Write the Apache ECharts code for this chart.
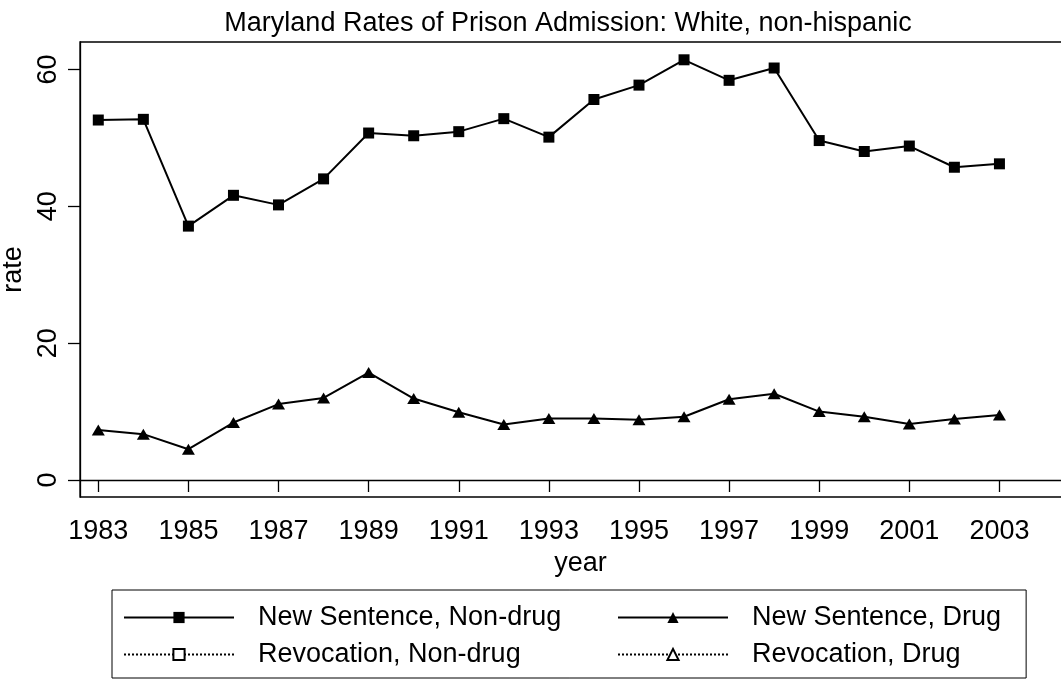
<!DOCTYPE html>
<html>
<head>
<meta charset="utf-8">
<script src="https://cdn.jsdelivr.net/npm/echarts@6/dist/echarts.min.js"></script>
<style>
    html, body { margin: 0; padding: 0; background: #fff; }
    #chart { width: 1061px; height: 681px; }
</style>
</head>
<body>
<div id="chart"></div>
<script>
const years = [1983, 1984, 1985, 1986, 1987, 1988, 1989, 1990, 1991, 1992, 1993,
    1994, 1995, 1996, 1997, 1998, 1999, 2000, 2001, 2002, 2003]
const newNonDrug = [52.6, 52.7, 37.1, 41.6, 40.2, 44.0, 50.7, 50.3, 50.9, 52.8, 50.1,
    55.6, 57.7, 61.4, 58.4, 60.2, 49.6, 48.0, 48.8, 45.7, 46.2]
const newDrug = [7.3, 6.7, 4.5, 8.4, 11.1, 12.0, 15.7, 11.9, 9.9, 8.1, 9.0,
    9.0, 8.8, 9.25, 11.8, 12.6, 10.0, 9.25, 8.2, 8.9, 9.5]
// revocation series have no points drawn in the picture
const revNonDrug = []
const revDrug = []
const seriesNames = ['New Sentence, Non-drug', 'New Sentence, Drug', 'Revocation, Non-drug', 'Revocation, Drug']
const xTicks = [1983, 1985, 1987, 1989, 1991, 1993, 1995, 1997, 1999, 2001, 2003]
const yTicks = [0, 20, 40, 60]

const font = 'Liberation Sans, Arial, Helvetica, sans-serif'
const toPairs = arr => arr.map((v, i) => [years[i], v])

const chart = echarts.init(document.getElementById('chart'))
chart.setOption({
    animation: false,
    backgroundColor: '#fff',
    title: {
        text: 'Maryland Rates of Prison Admission: White, non-hispanic',
        left: 568,
        top: 10,
        textAlign: 'center',
        padding: 0,
        textStyle: { fontFamily: font, fontSize: 27, fontWeight: 'normal', color: '#000' }
    },
    grid: {
        left: 80,
        top: 42,
        right: -20,
        bottom: 184,
        outerBoundsMode: 'none',
        containLabel: false,
        show: true,
        borderColor: '#000',
        borderWidth: 1.3,
        backgroundColor: '#fff'
    },
    xAxis: {
        type: 'value',
        min: 1982.594,
        max: 2004.81,
        name: 'year',
        nameLocation: 'middle',
        nameGap: 44,
        nameTextStyle: { fontFamily: font, fontSize: 27, color: '#000' },
        axisLine: { lineStyle: { color: '#000', width: 1.3 } },
        axisTick: { show: true, length: 12, customValues: xTicks, lineStyle: { color: '#000', width: 1.3 } },
        axisLabel: {
            customValues: xTicks,
            formatter: v => String(v),
            margin: 21,
            fontFamily: font,
            fontSize: 27,
            color: '#000'
        },
        splitLine: { show: false }
    },
    yAxis: {
        type: 'value',
        min: -2.48,
        max: 64,
        name: 'rate',
        nameLocation: 'middle',
        nameGap: 45,
        nameRotate: 90,
        nameTextStyle: { fontFamily: font, fontSize: 27, color: '#000' },
        axisLine: { show: true, lineStyle: { color: '#000', width: 1.3 } },
        axisTick: { show: true, length: 12, customValues: yTicks, lineStyle: { color: '#000', width: 1.3 } },
        axisLabel: {
            customValues: yTicks,
            formatter: v => String(v),
            rotate: 90,
            margin: 18,
            fontFamily: font,
            fontSize: 27,
            color: '#000'
        },
        splitLine: { show: false }
    },
    legend: {
        left: 112,
        top: 590,
        padding: [14, 25, 10, 11],
        borderColor: '#000',
        borderWidth: 1,
        itemWidth: 110,
        itemHeight: 14,
        itemGap: 10,
        selectedMode: false,
        data: seriesNames,
        formatter: name => seriesNames.indexOf(name) % 2 === 0 ? '{a|' + name + '}' : '{b|' + name + '}',
        textStyle: {
            fontFamily: font,
            fontSize: 27,
            color: '#000',
            rich: {
                a: { width: 349, padding: [0, 0, 0, 19], fontFamily: font, fontSize: 27, lineHeight: 27, color: '#000' },
                b: { padding: [0, 0, 0, 19], fontFamily: font, fontSize: 27, lineHeight: 27, color: '#000' }
            }
        }
    },
    series: [
        {
            name: seriesNames[0],
            type: 'line',
            data: toPairs(newNonDrug),
            symbol: 'rect',
            symbolSize: 11,
            lineStyle: { color: '#000', width: 2 },
            itemStyle: { color: '#000' }
        },
        {
            name: seriesNames[1],
            type: 'line',
            data: toPairs(newDrug),
            symbol: 'triangle',
            symbolSize: [13, 11],
            lineStyle: { color: '#000', width: 2 },
            itemStyle: { color: '#000' }
        },
        {
            name: seriesNames[2],
            type: 'line',
            data: toPairs(revNonDrug),
            symbol: 'emptyRect',
            symbolSize: 9,
            lineStyle: { color: '#000', width: 1.5, type: 'dotted' },
            itemStyle: { color: '#000' }
        },
        {
            name: seriesNames[3],
            type: 'line',
            data: toPairs(revDrug),
            symbol: 'emptyTriangle',
            symbolSize: 9,
            lineStyle: { color: '#000', width: 1.5, type: 'dotted' },
            itemStyle: { color: '#000' }
        }
    ]
})
</script>
</body>
</html>
